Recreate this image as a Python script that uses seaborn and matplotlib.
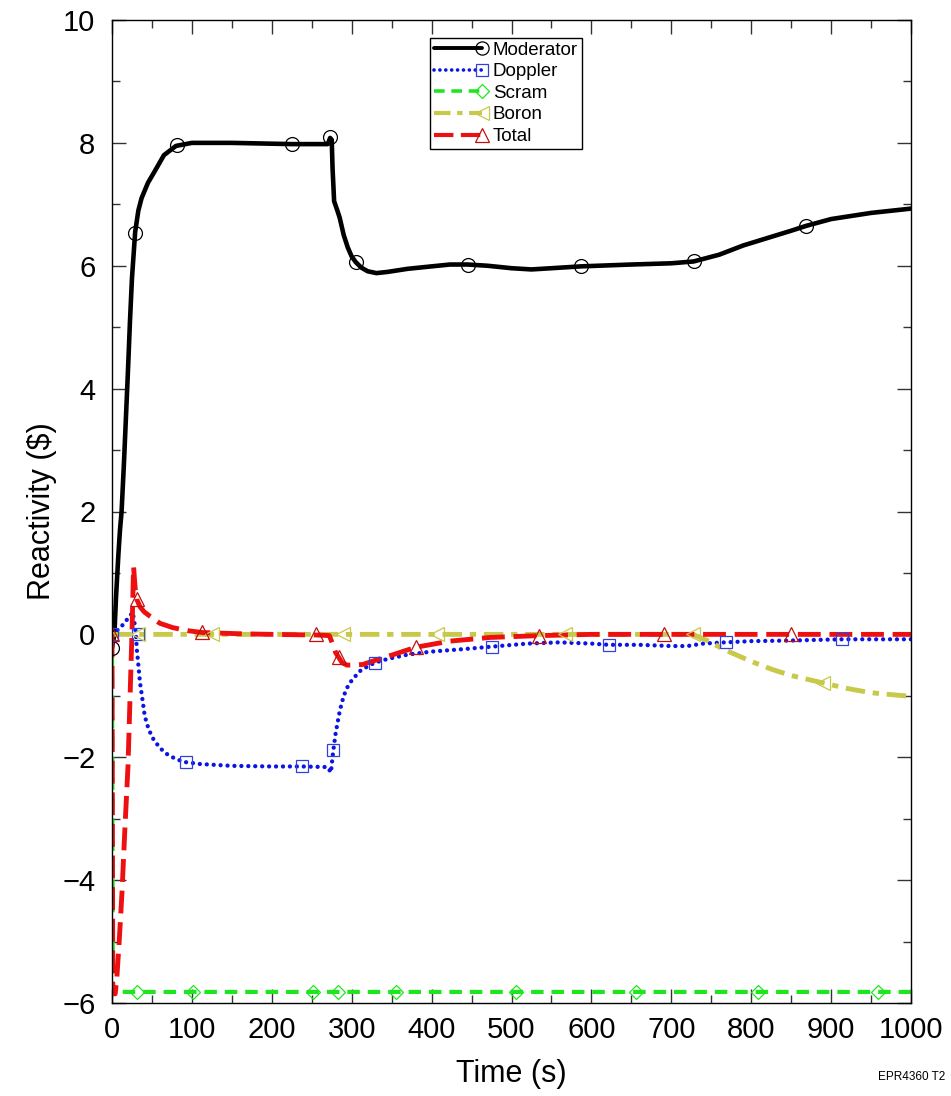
import numpy as np
import pandas as pd
import matplotlib
matplotlib.use("Agg")
import matplotlib.pyplot as plt
from matplotlib.lines import Line2D
from matplotlib.legend_handler import HandlerLine2D
from matplotlib.ticker import MultipleLocator
import seaborn as sns

# ---------------- data ----------------
mod_t = [0, 3, 5, 8, 10, 12, 15, 18, 20, 22.5, 25, 29, 33, 37, 45, 54, 65, 80, 100, 150, 225, 270,
         273, 275, 276, 278, 282, 285, 290, 295, 300, 305, 312, 320, 331, 345, 370, 400, 423, 445,
         470, 500, 525, 550, 587, 650, 700, 728, 760, 790, 820, 850, 869, 900, 950, 1000]
mod_y = [-0.22, 0.0, 0.6, 1.3, 1.7, 2.0, 2.8, 3.7, 4.3, 5.1, 5.8, 6.55, 6.9, 7.1, 7.35, 7.55, 7.8, 7.95, 8.0, 8.0, 7.98, 7.98,
         8.08, 8.05, 7.6, 7.05, 6.9, 6.78, 6.5, 6.3, 6.15, 6.06, 5.97, 5.91, 5.88, 5.9, 5.95, 5.99, 6.02, 6.02,
         6.0, 5.96, 5.94, 5.96, 5.99, 6.02, 6.04, 6.07, 6.18, 6.33, 6.45, 6.57, 6.65, 6.76, 6.86, 6.93]
mod_mt = [0, 29, 81, 225, 273, 305, 445, 587, 728, 869]
mod_my = [-0.22, 6.53, 7.96, 7.98, 8.1, 6.06, 6.02, 5.99, 6.07, 6.65]

dop_t = [0, 5, 10, 15, 20, 26, 28, 30, 31, 33, 35, 38, 41, 46, 52, 60, 69, 80, 92, 110, 150, 200, 238, 270,
         274, 276, 277, 280, 285, 290, 295, 300, 310, 320, 329, 345, 370, 400, 440, 475, 520, 560, 600,
         622, 660, 700, 720, 740, 768, 800, 850, 914, 1000]
dop_y = [0.0, 0.05, 0.1, 0.18, 0.26, 0.36, 0.2, 0.0, -0.24, -0.5, -0.78, -1.05, -1.33, -1.55, -1.71, -1.85, -1.95, -2.03, -2.08, -2.11, -2.14, -2.15, -2.15, -2.16,
         -2.25, -2.0, -1.89, -1.6, -1.25, -1.0, -0.85, -0.75, -0.6, -0.52, -0.46, -0.4, -0.33, -0.28, -0.24, -0.2, -0.15, -0.13, -0.15,
         -0.17, -0.17, -0.19, -0.19, -0.15, -0.13, -0.11, -0.1, -0.08, -0.08]
dop_mt = [0, 32, 92, 238, 277, 329, 475, 622, 768, 914]
dop_my = [0.0, 0.0, -2.08, -2.15, -1.89, -0.46, -0.2, -0.17, -0.13, -0.08]

scr_t = [0, 1, 1000]
scr_y = [0.0, -5.82, -5.82]
scr_mt = [31, 101, 252, 283, 355, 506, 656, 808, 959]
scr_my = [-5.82] * 9

bor_t = [0, 727, 745, 765, 786, 800, 826, 850, 870, 890, 920, 950, 1000]
bor_y = [0.0, 0.0, -0.1, -0.24, -0.36, -0.44, -0.57, -0.67, -0.73, -0.79, -0.88, -0.95, -1.01]
bor_mt = [33, 125, 289, 407, 567, 727, 890]
bor_my = [0.0, 0.0, 0.0, 0.0, 0.0, 0.0, -0.79]

tot_t = [0, 1, 4, 6, 9, 12.5, 16, 20, 22.5, 25, 27, 29, 31, 35, 40, 47, 60, 76, 95, 113, 160, 200, 255, 272,
         276, 280, 284, 288, 294, 300, 314, 330, 352, 380, 423, 473, 535, 600, 691, 850, 1000]
tot_y = [0.0, -5.85, -5.85, -5.6, -5.0, -4.2, -3.2, -2.15, -1.06, 0.03, 1.1, 0.75, 0.57, 0.45, 0.37, 0.3, 0.18, 0.11, 0.06, 0.03, 0.01, 0.0, -0.01, -0.02,
         -0.15, -0.3, -0.38, -0.46, -0.5, -0.5, -0.49, -0.42, -0.33, -0.21, -0.11, -0.05, -0.02, 0.0, 0.0, 0.0, 0.0]
tot_mt = [0, 31, 113, 255, 284, 380, 535, 691, 850]
tot_my = [0.0, 0.57, 0.04, 0.0, -0.37, -0.2, -0.02, 0.0, 0.0]

x_ticks = list(range(0, 1001, 100))
y_ticks = [-6, -4, -2, 0, 2, 4, 6, 8, 10]

# ---------------- style ----------------
sns.set_theme(style="ticks")
plt.rcParams["font.family"] = ["Liberation Sans", "DejaVu Sans"]
plt.rcParams["text.color"] = "black"
plt.rcParams["axes.labelcolor"] = "black"
plt.rcParams["xtick.labelcolor"] = "black"
plt.rcParams["ytick.labelcolor"] = "black"

fig = plt.figure(figsize=(9.51, 10.96), dpi=100)
ax = fig.add_axes([112 / 951, 1 - 1003 / 1096, (911 - 112) / 951, (1003 - 20) / 1096])

series = [
    # label, t, y, mt, my, color, lw, dashes, marker, mcolor, ms
    ("Moderator", mod_t, mod_y, mod_mt, mod_my, "black", 3.3, None, "o", "black", 10),
    ("Doppler", dop_t, dop_y, dop_mt, dop_my, "#0a14e6", 3.1, (0.01, 1.6), "s", "#3040e0", 8.5),
    ("Scram", scr_t, scr_y, scr_mt, scr_my, "#1ee61e", 3.0, (3.0, 1.9), "D", "#1ee61e", 7),
    ("Boron", bor_t, bor_y, bor_mt, bor_my, "#c8c84a", 3.5, (4.0, 1.6, 1.3, 1.6), "<", "#c8c84a", 10),
    ("Total", tot_t, tot_y, tot_mt, tot_my, "#ee1010", 3.5, (4.7, 1.8), "^", "#c01010", 10),
]

handles = []
for label, t, y, mt, my, color, lw, dashes, marker, mcolor, ms in series:
    df = pd.DataFrame({"t": t, "y": y})
    n_before = len(ax.lines)
    sns.lineplot(data=df, x="t", y="y", ax=ax, color=color, linewidth=lw,
                 estimator=None, sort=False, legend=False)
    line = ax.lines[n_before]
    line.set_solid_joinstyle("round")
    if dashes is not None:
        line.set_dashes(dashes)
        if label == "Doppler":
            line.set_dash_capstyle("round")
    mdf = pd.DataFrame({"t": mt, "y": my})
    ax.plot(mdf["t"], mdf["y"], linestyle="none", marker=marker, ms=ms,
            mfc="none", mec=mcolor, mew=0.9, zorder=line.get_zorder() + 0.1)
    h = Line2D([], [], color=color, linewidth=lw * 0.85, marker=marker, ms=ms * 0.95,
               mfc="none", mec=mcolor, mew=0.9)
    if dashes is not None:
        h.set_dashes(dashes)
        if label == "Doppler":
            h.set_dash_capstyle("round")
    handles.append((h, label))


class EndMarkerHandler(HandlerLine2D):
    def create_artists(self, legend, orig_handle, xdescent, ydescent,
                       width, height, fontsize, trans):
        yc = (height - ydescent) / 2
        ln = Line2D([-xdescent, width - xdescent - 6], [yc, yc])
        self.update_prop(ln, orig_handle, legend)
        ln.set_marker("None")
        mk = Line2D([width - xdescent - 6], [yc])
        self.update_prop(mk, orig_handle, legend)
        mk.set_linestyle("None")
        ln.set_transform(trans)
        mk.set_transform(trans)
        return [ln, mk]


leg = ax.legend([h for h, _ in handles], [l for _, l in handles],
                handler_map={Line2D: EndMarkerHandler()},
                loc="upper left", bbox_to_anchor=(0.398, 0.982),
                fontsize=13.5, frameon=True, fancybox=False, framealpha=1,
                edgecolor="black", handlelength=3.0, handletextpad=0.15,
                labelspacing=0.24, borderpad=0.2, borderaxespad=0)
leg.get_frame().set_linewidth(1.0)

ax.set_xlim(0, 1000)
ax.set_ylim(-6, 10)
ax.set_xticks(x_ticks)
ax.set_yticks(y_ticks)
ax.xaxis.set_minor_locator(MultipleLocator(50))
ax.yaxis.set_minor_locator(MultipleLocator(1))
ax.tick_params(which="both", direction="in", top=True, right=True, color="#333333")
ax.tick_params(which="major", length=10, width=1)
ax.tick_params(which="minor", length=6, width=1)
ax.tick_params(axis="x", which="major", labelsize=21, pad=9, labelcolor="black")
ax.tick_params(axis="y", which="major", labelsize=21, pad=12, labelcolor="black")
for sp in ax.spines.values():
    sp.set_linewidth(1.0)
    sp.set_color("black")
    sp.set_visible(True)

ax.set_xlabel("Time (s)", fontsize=22, labelpad=11, color="black")
ax.set_ylabel("Reactivity ($)", fontsize=22, labelpad=4, color="black")
fig.text(945 / 951, 1 - 1077 / 1096, "EPR4360 T2", fontsize=8.5, ha="right", va="center", color="black")

fig.savefig("out.png", dpi=100, facecolor="white")
